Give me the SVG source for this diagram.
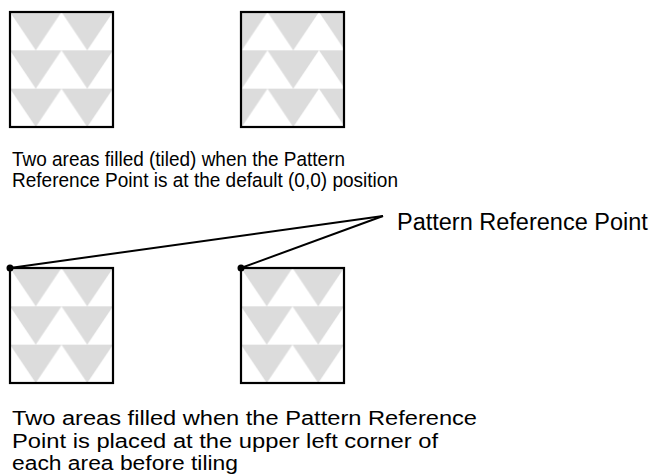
<svg xmlns="http://www.w3.org/2000/svg" width="651" height="474" viewBox="0 0 651 474">
  <style>
    .box { fill: url(#tri0); stroke: #000; stroke-width: 2.2; }
    .box2 { stroke: #000; stroke-width: 2.2; }
    .lbl { font-family: "Liberation Sans", Arial, Helvetica, sans-serif; fill: #000; }
    .conn { stroke: #000; stroke-width: 2; fill: none; }
  </style>
  <defs>
    <pattern id="tri0" patternUnits="userSpaceOnUse" x="10" y="12" width="51.5" height="38.33">
      <rect width="51.5" height="38.33" fill="#fff"/>
      <polygon points="0,0 51.5,0 25.75,38.33" fill="#dcdcdc"/>
    </pattern>
    <pattern id="triA" patternUnits="userSpaceOnUse" x="10" y="268" width="51.5" height="38.33">
      <rect width="51.5" height="38.33" fill="#fff"/>
      <polygon points="0,0 51.5,0 25.75,38.33" fill="#dcdcdc"/>
    </pattern>
    <pattern id="triB" patternUnits="userSpaceOnUse" x="241" y="268" width="51.5" height="38.33">
      <rect width="51.5" height="38.33" fill="#fff"/>
      <polygon points="0,0 51.5,0 25.75,38.33" fill="#dcdcdc"/>
    </pattern>
  </defs>
  <rect width="651" height="474" fill="#fff"/>

  <g id="area1"><rect class="box" x="10" y="12" width="103" height="115"/></g>
  <g id="area2"><rect class="box" x="241" y="12" width="103" height="115"/></g>
  <g id="caption1">
    <text class="lbl" font-size="20.5" x="12" y="166" textLength="333" lengthAdjust="spacingAndGlyphs">Two areas filled (tiled) when the Pattern</text>
    <text class="lbl" font-size="20.5" x="12" y="187" textLength="386" lengthAdjust="spacingAndGlyphs">Reference Point is at the default (0,0) position</text>
  </g>

  <g id="area3"><rect class="box2" fill="url(#triA)" x="10" y="268" width="103" height="115"/></g>
  <g id="area4"><rect class="box2" fill="url(#triB)" x="241" y="268" width="103" height="115"/></g>

  <g id="connectors">
    <line class="conn" x1="10" y1="268" x2="383" y2="216"/>
    <line class="conn" x1="241" y1="268" x2="383" y2="216"/>
    <circle cx="10" cy="268" r="3.5" fill="#000"/>
    <circle cx="241" cy="268" r="3.5" fill="#000"/>
  </g>
  <g id="refLabel">
    <text class="lbl" font-size="23.5" x="397" y="230">Pattern Reference Point</text>
  </g>

  <g id="caption2">
    <text class="lbl" font-size="20" x="12" y="425" textLength="465" lengthAdjust="spacingAndGlyphs">Two areas filled when the Pattern Reference</text>
    <text class="lbl" font-size="20" x="12" y="447.5" textLength="426" lengthAdjust="spacingAndGlyphs">Point is placed at the upper left corner of</text>
    <text class="lbl" font-size="20" x="12" y="470" textLength="226" lengthAdjust="spacingAndGlyphs">each area before tiling</text>
  </g>
</svg>
